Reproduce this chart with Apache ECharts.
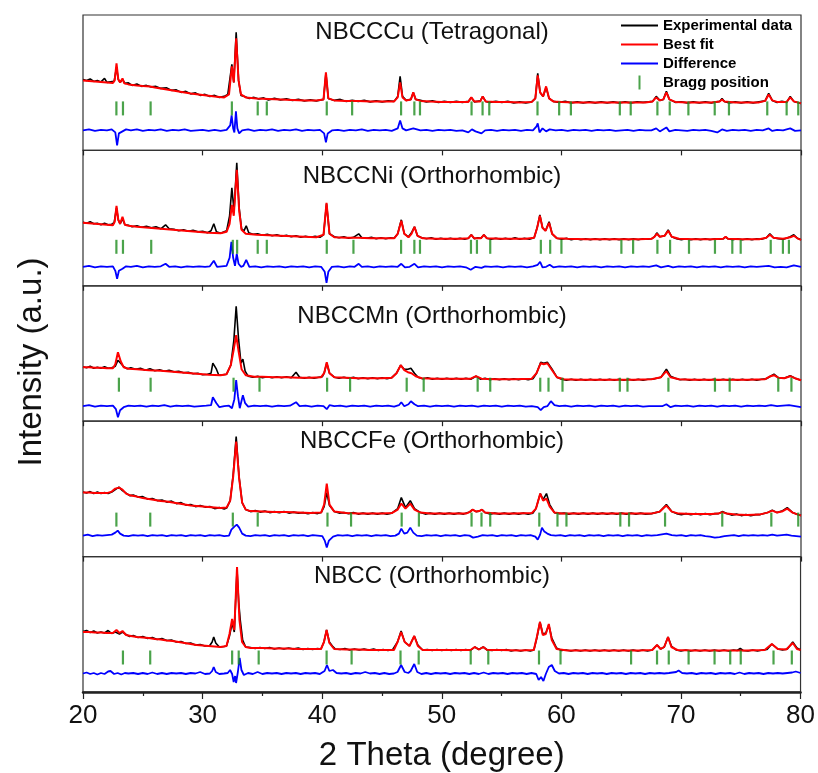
<!DOCTYPE html>
<html><head><meta charset="utf-8">
<script src="https://cdn.jsdelivr.net/npm/echarts@6/dist/echarts.min.js"></script>
<style>html,body{margin:0;padding:0;background:#fff}#c{width:818px;height:773px}</style>
</head><body><div id="c"></div>
<script>
const panelNames = ['NBCCCu (Tetragonal)','NBCCNi (Orthorhombic)','NBCCMn (Orthorhombic)','NBCCFe (Orthorhombic)','NBCC (Orthorhombic)'];
const xTicks = [20,30,40,50,60,70,80];
const braggLevel = [42,39,36.5,37,34.5];

// ---------- NBCCCu ----------
const cuExp = [[20,71],[20.3,70],[20.6,71.5],[20.9,69],[21.2,70],[21.5,68.5],[21.8,72],[22.0,68],[22.3,68.5],[22.6,69],[22.8,83],[22.95,71],[23.1,68],[23.3,71],[23.5,67],[23.8,67.5],[24.1,65],[24.5,66.5],[24.9,64],[25.3,65],[25.7,63.5],[26.1,64],[26.5,62],[27,62.5],[27.4,60],[27.8,60.5],[28.2,58],[28.6,59],[29,56.5],[29.4,57.5],[29.8,55],[30.2,56],[30.6,54],[31,55],[31.4,53],[31.8,54],[32.1,56],[32.44,86],[32.6,68],[32.8,118],[33.0,70],[33.2,55],[33.5,54],[33.9,52],[34.3,53],[34.7,51.5],[35.1,52.5],[35.5,50.5],[36,52],[36.5,50.5],[37,51.5],[37.5,50],[38,51],[38.5,49.5],[39,50.5],[39.5,49.5],[40.1,51],[40.3,77],[40.5,52],[41,50],[41.5,51],[42,49],[42.5,50],[43,49],[43.5,50],[44,48.5],[44.5,49.5],[45,48.5],[45.5,49.5],[46,49],[46.3,54],[46.5,74],[46.7,54],[47,50],[47.4,51],[47.6,58],[47.8,51],[48.2,50],[48.7,48.5],[49.2,49.5],[49.7,48],[50.2,49],[50.7,48],[51.2,49],[51.7,48],[52.2,49],[52.45,53],[52.7,48.5],[53.2,49.5],[53.4,54],[53.65,49],[54,48],[54.5,49],[55,48],[55.5,49],[56,47.5],[56.5,48.5],[57,47.5],[57.5,48.5],[57.8,52],[58.0,77],[58.2,58],[58.45,54],[58.7,63],[58.95,52],[59.3,49],[59.8,48],[60.3,49],[60.8,47.5],[61.3,48.5],[61.8,47.5],[62.3,48.5],[62.8,47.5],[63.3,48.5],[63.8,47.5],[64.3,48.5],[64.8,47.5],[65.3,48.5],[65.8,47.5],[66.3,48.5],[66.8,48],[67.3,48.5],[67.6,49],[67.9,54],[68.2,50],[68.5,51],[68.75,59],[69,51],[69.5,48],[70,48.5],[70.5,47.5],[71,48.5],[71.5,47.5],[72,48.5],[72.5,47.5],[73.2,49],[73.4,52],[73.6,49],[74,47.5],[74.5,48.5],[75,47.5],[75.5,48.5],[76,47.5],[76.5,48.5],[77.0,49.5],[77.3,57],[77.6,50],[78,48],[78.4,49],[78.8,48],[79.1,54],[79.4,49],[79.7,48],[80,47]];
const cuFit = [[20,70],[20.5,69.5],[21,69],[21.5,68.5],[22,68],[22.5,67.5],[22.65,70],[22.8,87],[22.95,71],[23.1,68],[23.3,72],[23.45,67],[23.8,66],[24.5,65],[25,64.5],[25.6,64],[26,63],[27,61],[28,59],[29,57],[30,55.5],[31,54],[31.8,53],[32.2,56],[32.44,84],[32.6,68],[32.8,112],[33.0,70],[33.2,56],[33.6,53],[34.5,52],[35.5,51.5],[36.5,51],[37.5,50.5],[38.5,50],[39.5,50],[40.1,51],[40.3,78],[40.5,52],[41,50],[42,49.5],[43,49.5],[44,49],[45,49],[46,49],[46.3,53],[46.5,68],[46.7,53],[47,50],[47.4,51],[47.6,58],[47.8,51],[48.2,49.5],[49,49],[50,48.5],[51,48.5],[52.2,48.5],[52.45,53],[52.7,49],[53.2,49],[53.4,54],[53.65,49],[54.5,48.5],[55.5,48.5],[56.5,48],[57.5,48.5],[57.8,52],[58.0,75],[58.2,58],[58.45,54],[58.7,64],[58.95,52],[59.3,49],[60,48.5],[61,48],[62,48],[63,48],[64,48],[65,48],[66,48],[67,48],[67.6,49],[67.9,53],[68.2,50],[68.5,51],[68.75,58],[69,51],[69.5,48.5],[70.5,48],[71.5,48],[72.5,48],[73.2,49],[73.4,51],[73.6,49],[74.5,48],[75.5,48],[76.5,48],[77.0,49.5],[77.3,56],[77.6,50],[78,48.5],[78.8,48.5],[79.1,53],[79.4,49],[80,47]];
const cuDiff = [[20,20],[20.5,21],[21,19.5],[21.5,20.5],[22,20],[22.4,21],[22.7,18],[22.85,5],[23.0,17],[23.3,19],[23.6,21],[24,20],[24.5,21],[25,19.5],[25.5,20.5],[26,20],[26.5,21],[27,19.5],[27.5,20.5],[28,20],[28.5,21],[29,19.5],[29.5,20],[30,20.5],[30.5,19.5],[31,20.5],[31.5,19.5],[32,20.5],[32.3,25],[32.42,35],[32.55,22],[32.65,18],[32.78,39],[32.9,22],[33.05,17],[33.3,20],[33.8,21],[34.3,19.5],[34.8,20.5],[35.3,20],[35.8,21],[36.3,19.5],[36.8,20.5],[37.3,20],[37.8,21],[38.3,19.5],[38.8,20.5],[39.3,20],[39.8,20.5],[40.15,17],[40.3,8],[40.45,17],[40.8,20],[41.3,20.5],[41.8,19.5],[42.3,20.5],[42.8,20],[43.3,21],[43.8,19.5],[44.3,20.5],[44.8,20],[45.3,20.5],[45.8,19.5],[46.3,22],[46.5,30],[46.7,22],[47,20],[47.6,22],[48.2,20],[48.7,20.5],[49.2,19.5],[49.7,20.5],[50.2,20],[50.7,20.5],[51.2,19.5],[51.7,20],[52.2,18],[52.5,21],[52.8,19],[53.3,17],[53.6,20],[54.1,20.5],[54.6,19.5],[55.1,20.5],[55.6,20],[56.1,20.5],[56.6,19.5],[57.1,20.5],[57.6,20],[57.9,24],[58.0,27],[58.15,18],[58.4,22],[58.7,19],[59.0,21],[59.5,20],[60,20.5],[60.5,19.5],[61,20.5],[61.5,20],[62,20.5],[62.5,19.5],[63,20.5],[63.5,20],[64,20.5],[64.5,19.5],[65,20],[65.5,20.5],[66,19.5],[66.5,20.5],[67,20],[67.5,20],[67.9,22],[68.2,19],[68.75,23],[69,19],[69.5,20.5],[70,20],[70.5,19.5],[71,20.5],[71.5,20],[72,20.5],[72.5,19.5],[73,18],[73.4,21],[73.8,19.5],[74.3,20.5],[74.8,20],[75.3,20.5],[75.8,19.5],[76.3,20.5],[76.8,20],[77.3,22],[77.6,19.5],[78,20.5],[78.5,20],[79.1,22],[79.5,19.5],[80,20]];
const cuBragg = [22.79,23.34,25.65,32.44,34.6,35.36,40.37,42.49,46.58,47.69,48.16,52.47,53.39,53.95,57.98,59.79,60.77,64.86,65.77,68.0,69.03,70.59,72.79,73.98,77.18,78.8,79.77];

// ---------- NBCCNi ----------
const niExp = [[20,63.5],[20.3,62.5],[20.6,64],[20.9,62],[21.2,62.5],[21.5,61],[21.8,62.5],[22.1,61],[22.4,61.5],[22.6,63],[22.8,78],[22.95,66],[23.1,62],[23.3,67],[23.5,61],[23.8,60.5],[24.1,59],[24.5,60],[24.9,58.5],[25.3,59.5],[25.7,58],[26.1,59],[26.5,57],[26.9,61],[27.2,57],[27.6,56.5],[28,55],[28.4,56],[28.8,54.5],[29.2,55.5],[29.6,54],[30,54.5],[30.4,53],[30.7,55],[30.93,62],[31.15,54],[31.5,52.5],[31.8,54],[32.0,55],[32.25,70],[32.44,98],[32.62,75],[32.85,123],[33.05,78],[33.25,57],[33.45,55],[33.64,60],[33.85,53],[34.2,51.5],[34.6,52],[35,50.5],[35.4,51.5],[35.8,50],[36.2,51],[36.6,49.5],[37,50.5],[37.4,49],[37.8,50],[38.2,48.5],[38.6,49.5],[39,48.5],[39.4,49.5],[39.8,48.5],[40.1,51],[40.35,82],[40.6,52],[41,49],[41.4,48],[41.8,49],[42.2,47.5],[42.6,48.5],[43.04,52],[43.3,48],[43.7,47.5],[44.1,48.5],[44.5,47],[44.9,48],[45.3,47],[45.7,48],[46.0,47.5],[46.3,52],[46.6,66],[46.85,52],[47.2,49],[47.45,53],[47.7,59],[47.95,50],[48.3,48],[48.7,47],[49.1,48],[49.5,46.5],[49.9,47.5],[50.3,46.5],[50.7,47.5],[51.1,46.5],[51.5,47.5],[51.9,46.5],[52.2,47.5],[52.45,51],[52.7,47],[53.0,48],[53.25,47.5],[53.5,51],[53.75,47.5],[54.1,46.5],[54.5,47.5],[54.9,46.5],[55.3,47.5],[55.7,46.5],[56.1,48],[56.5,46.5],[56.9,47.5],[57.3,46.5],[57.7,48],[57.95,58],[58.18,71],[58.4,58],[58.65,55],[58.95,64],[59.2,52],[59.6,47.5],[60,46.5],[60.4,47.5],[60.8,46],[61.2,47],[61.6,46],[62,47],[62.4,46],[62.8,47],[63.2,46],[63.6,47],[64,46],[64.4,47],[64.8,46],[65.2,47],[65.6,46],[66,47],[66.4,46],[66.8,47],[67.2,46.5],[67.5,47],[67.75,49],[67.95,53],[68.2,49],[68.6,50],[68.9,56],[69.2,49],[69.6,47],[70,46],[70.4,47],[70.8,46],[71.2,47],[71.6,46],[72,47],[72.4,46],[72.8,47],[73.2,46.5],[73.5,47],[73.7,49],[73.9,47],[74.3,46],[74.7,47],[75.1,46],[75.5,47],[75.9,46],[76.3,47],[76.7,46.5],[77.1,48],[77.4,52],[77.7,48],[78.1,47],[78.5,46.5],[78.8,47.5],[79.1,49],[79.4,51],[79.7,47.5],[80,46]];
const niFit = [[20,63],[20.5,62.5],[21,62],[21.5,61.5],[22,61],[22.5,60.5],[22.65,64],[22.8,80],[22.95,66],[23.1,62],[23.3,69],[23.5,61],[23.8,60],[24.5,59],[25.5,58],[26.5,57],[27.5,56],[28.5,55],[29.5,54],[30.5,53],[31.5,52.5],[32.0,54],[32.25,62],[32.44,81],[32.6,70],[32.85,116],[33.05,75],[33.25,56],[33.6,52],[34.5,51],[35.5,50.5],[36.5,50],[37.5,49.5],[38.5,49],[39.5,48.5],[40.1,51],[40.35,83],[40.6,52],[41,48.5],[42,48],[43,48],[44,47.5],[45,47.5],[46,47.5],[46.3,52],[46.6,65],[46.85,52],[47.2,48.5],[47.45,52],[47.7,59],[47.95,50],[48.4,47.5],[49.5,47],[50.5,47],[51.5,47],[52.2,47.5],[52.45,51],[52.7,47.5],[53.25,47.5],[53.5,51],[53.75,47.5],[55,47],[56,47],[57,47],[57.7,48],[57.95,58],[58.18,70],[58.4,58],[58.65,55],[58.95,63],[59.2,52],[59.6,47.5],[60.5,47],[62,46.5],[63.5,46.5],[65,46.5],[66.5,46.5],[67.5,47],[67.75,49],[67.95,52],[68.2,49],[68.6,50],[68.9,55],[69.2,49],[69.8,47],[71,46.5],[72.5,46.5],[73.5,47],[73.7,49],[73.9,47],[75,46.5],[76.5,46.5],[77.1,48],[77.4,51],[77.7,48],[78.5,47],[79.1,48.5],[79.4,50],[79.7,47.5],[80,46]];
const niDiff = [[20,19],[20.5,20],[21,18.5],[21.5,19.5],[22,19],[22.5,19.5],[22.7,15],[22.85,7],[23.0,15],[23.3,17],[23.6,19.5],[24,19],[24.5,20],[25,18.5],[25.5,19.5],[26,19],[26.5,19.5],[26.9,22],[27.2,19],[27.7,19.5],[28.2,18.5],[28.7,19.5],[29.2,19],[29.7,19.5],[30.2,19],[30.6,19.5],[30.93,25],[31.2,19],[31.6,19.5],[32.0,20],[32.25,28],[32.4,44],[32.55,28],[32.7,20],[32.85,32],[33.0,22],[33.2,19],[33.4,20],[33.64,26],[33.9,19],[34.4,19.5],[34.9,18.5],[35.4,19.5],[35.9,19],[36.4,19.5],[36.9,18.5],[37.4,19.5],[37.9,19],[38.4,19.5],[38.9,18.5],[39.4,19.5],[39.9,19],[40.2,14],[40.35,3],[40.5,14],[40.8,19],[41.3,19.5],[41.8,18.5],[42.3,19.5],[42.7,19],[43.04,22],[43.3,19],[43.8,19.5],[44.3,18.5],[44.8,19.5],[45.3,19],[45.8,19.5],[46.3,19],[46.6,22],[46.9,18.5],[47.3,19],[47.7,22],[48.0,18.5],[48.5,19.5],[49,19],[49.5,19.5],[50,18.5],[50.5,19.5],[51,19],[51.5,19.5],[52,18.5],[52.4,16],[52.8,19],[53.3,18],[53.6,19.5],[54.1,19],[54.6,19.5],[55.1,18.5],[55.6,19.5],[56.1,19],[56.6,19.5],[57.1,18.5],[57.6,19.5],[58.0,21],[58.2,24],[58.4,18.5],[58.7,19],[59.0,21],[59.3,18.5],[59.8,19.5],[60.3,19],[60.8,19.5],[61.3,18.5],[61.8,19.5],[62.3,19],[62.8,19.5],[63.3,18.5],[63.8,19.5],[64.3,19],[64.8,19.5],[65.3,18.5],[65.8,19.5],[66.3,19],[66.8,19.5],[67.3,19],[67.9,20.5],[68.3,18.5],[68.9,20],[69.3,18.5],[69.8,19.5],[70.3,19],[70.8,19.5],[71.3,18.5],[71.8,19.5],[72.3,19],[72.8,19.5],[73.3,18.5],[73.8,19.5],[74.3,19],[74.8,19.5],[75.3,18.5],[75.8,19.5],[76.3,19],[76.8,19.5],[77.3,20],[77.8,18.5],[78.3,19],[78.8,18.5],[79.4,20.5],[80,19]];
const niBragg = [22.79,23.34,25.7,32.52,32.88,34.6,35.36,40.37,42.6,46.58,47.69,48.16,52.42,52.92,54.03,58.26,59.04,59.98,64.99,65.97,68.0,69.06,70.64,72.81,74.26,74.96,77.47,78.49,78.99];

// ---------- NBCCMn ----------
const mnExp = [[20,54.5],[20.3,53.5],[20.6,55],[20.9,53],[21.2,54],[21.5,53],[21.8,54.5],[22.1,53],[22.4,53.5],[22.7,55],[22.92,61],[23.15,58],[23.4,54.5],[23.7,52.5],[24.0,53.5],[24.4,52],[24.8,53],[25.2,51],[25.6,52.5],[26,50.5],[26.4,51.5],[26.8,50],[27.2,51],[27.6,49.5],[28,50],[28.4,48.5],[28.8,49],[29.2,47.5],[29.6,48],[30,46.5],[30.4,47],[30.7,48],[30.85,58],[31.0,60],[31.15,52],[31.35,46],[31.7,46.5],[32.0,47],[32.35,56],[32.6,80],[32.8,115],[33.0,82],[33.2,58],[33.36,62],[33.55,50],[33.8,45],[34.2,44],[34.6,45],[35,43.5],[35.4,44.5],[35.8,43.5],[36.2,44.5],[36.6,43.5],[37,44.5],[37.4,43.5],[37.8,49],[38.1,44],[38.5,43],[38.9,44],[39.3,43],[39.7,44],[40.0,44.5],[40.15,48],[40.37,58],[40.6,48],[41,44],[41.4,43],[41.8,44],[42.2,43],[42.6,44],[43,42.5],[43.4,43.5],[43.8,42.5],[44.2,43.5],[44.6,42.5],[45,43.5],[45.4,42.5],[45.8,43.5],[46.2,48],[46.55,56],[46.85,52],[47.15,52],[47.4,53],[47.7,48],[48,44],[48.4,42.5],[48.8,43.5],[49.2,42],[49.6,43],[50,42],[50.4,43],[50.8,42],[51.2,43],[51.6,42],[52,43],[52.4,42],[52.84,45],[53.2,42],[53.6,43],[54,41.5],[54.4,42.5],[54.8,41.5],[55.2,42.5],[55.6,41.5],[56,42.5],[56.4,41.5],[56.8,42.5],[57.2,41.5],[57.6,42.5],[57.9,48],[58.25,59],[58.5,58],[58.8,59],[59.2,52],[59.6,44],[60,42],[60.4,41],[60.8,42],[61.2,41],[61.6,42],[62,41],[62.4,42],[62.8,41],[63.2,42],[63.6,41],[64,42],[64.4,41],[64.8,42],[65.2,41],[65.6,42],[66,41],[66.4,42],[66.8,41],[67.2,42],[67.6,42],[68.3,44],[68.75,52],[69.1,45],[69.5,43],[69.9,41.5],[70.3,42],[70.7,41],[71.1,42],[71.5,41],[71.9,42],[72.3,41],[72.7,42],[73.1,41],[73.5,42],[73.9,41],[74.3,42],[74.7,41],[75.1,42],[75.5,41],[75.9,42],[76.3,41],[76.7,42],[77.1,42.5],[77.45,45],[77.74,47],[78.1,43.5],[78.6,43],[79.1,45.5],[79.5,43],[80,41]];
const mnFit = [[20,54],[20.5,54],[21,53.5],[21.5,53.5],[22,53],[22.5,53],[22.7,57],[22.92,69],[23.15,60],[23.4,54],[23.8,52.5],[24.5,52],[25.5,51],[26.5,50.5],[27.5,49.5],[28.5,48.5],[29.5,47.5],[30.5,46.5],[31.5,46],[32.0,47],[32.35,56],[32.6,72],[32.8,86],[33.0,70],[33.25,52],[33.6,46],[34.3,44.5],[35,44.5],[36,44],[37,44],[38,43.5],[39,43.5],[39.9,44],[40.15,48],[40.37,59],[40.6,48],[41,44],[42,43.5],[43,43],[44,43],[45,43],[45.8,43.5],[46.2,48],[46.55,56],[46.85,51],[47.15,49],[47.45,48],[47.8,45],[48.3,43],[49.5,42.5],[51,42.5],[52.4,42.5],[52.84,45],[53.3,42.5],[54.5,42],[56,42],[57.5,42.5],[57.9,48],[58.25,58],[58.5,57],[58.8,58],[59.2,51],[59.6,44],[60.2,42],[61.5,41.5],[63,41.5],[64.5,41.5],[66,41.5],[67.5,42],[68.3,44],[68.75,50],[69.1,44],[69.8,42],[71,41.5],[72.5,41.5],[74,41.5],[75.5,41.5],[77,42],[77.45,45],[77.74,46],[78.1,43.5],[78.6,43],[79.1,45],[79.5,43],[80,41]];
const mnDiff = [[20,15],[20.5,16],[21,14.5],[21.5,15.5],[22,15],[22.5,15.5],[22.75,12],[22.92,4],[23.1,11],[23.4,14],[23.8,15.5],[24.3,15],[24.8,15.5],[25.3,14.5],[25.8,15.5],[26.3,15],[26.8,16],[27.3,14.5],[27.8,15.5],[28.3,15],[28.8,15.5],[29.3,14.5],[29.8,15],[30.3,15.5],[30.7,16],[30.85,24],[31.0,26],[31.15,18],[31.4,14],[31.8,15],[32.2,15.5],[32.45,13],[32.65,22],[32.8,41],[32.95,25],[33.1,13],[33.36,26],[33.55,18],[33.8,14.5],[34.3,15.5],[34.8,15],[35.3,15.5],[35.8,14.5],[36.3,15.5],[36.8,15],[37.3,15.5],[37.8,19],[38.1,15],[38.6,15.5],[39.1,14.5],[39.6,15.5],[40.1,15],[40.37,12],[40.6,16],[41,15],[41.5,15.5],[42,14.5],[42.5,15.5],[43,15],[43.5,15.5],[44,14.5],[44.5,15.5],[45,15],[45.5,15.5],[46,14.5],[46.4,16],[46.6,19],[46.85,15],[47.2,17],[47.4,20],[47.7,17],[48,15],[48.5,15.5],[49,14.5],[49.5,15.5],[50,15],[50.5,15.5],[51,14.5],[51.5,15.5],[52,15],[52.5,15.5],[53,14.5],[53.5,15.5],[54,15],[54.5,15.5],[55,14.5],[55.5,15.5],[56,15],[56.5,15.5],[57,14.5],[57.5,15],[58.0,14],[58.25,11],[58.5,14],[58.8,15],[59.1,20],[59.4,16],[59.8,15],[60.3,15.5],[60.8,14.5],[61.3,15.5],[61.8,15],[62.3,15.5],[62.8,14.5],[63.3,15.5],[63.8,15],[64.3,15.5],[64.8,14.5],[65.3,15.5],[65.8,15],[66.3,15.5],[66.8,14.5],[67.3,15],[67.8,15],[68.4,15],[68.75,17],[69.1,14],[69.5,15.5],[70,15],[70.5,15.5],[71,14.5],[71.5,15.5],[72,15],[72.5,15.5],[73,14.5],[73.5,15.5],[74,15],[74.5,15.5],[75,14.5],[75.5,15.5],[76,15],[76.5,15.5],[77,15],[77.5,16],[78,15],[78.5,15.5],[79,16],[79.5,15],[80,14]];
const mnBragg = [23.0,25.65,32.58,34.75,40.4,42.32,47.05,48.47,52.98,54.03,58.21,58.9,60.07,64.86,65.5,68.92,72.81,74.04,78.1,79.2];

// ---------- NBCCFe ----------
const feExp = [[20,64.5],[20.3,63.5],[20.6,65],[20.9,63],[21.2,64.5],[21.5,63],[21.8,64],[22.1,63],[22.4,64.5],[22.7,67],[23.0,69.5],[23.3,66],[23.6,63.5],[23.9,61],[24.2,61.5],[24.6,59.5],[25.0,60],[25.4,57.5],[25.8,58],[26.2,56],[26.6,56.5],[27,54.5],[27.4,55.5],[27.8,53],[28.2,54],[28.6,51.5],[29,52],[29.4,50],[29.8,51],[30.2,49.5],[30.6,50],[31,48],[31.4,49],[31.8,47.5],[32.0,48.5],[32.3,56],[32.55,82],[32.8,120],[33.05,79],[33.3,54],[33.6,47],[34,45],[34.4,46],[34.8,44.5],[35.2,45.5],[35.6,44],[36,45],[36.4,44],[36.8,45],[37.2,43.5],[37.6,44.5],[38,43.5],[38.4,44],[38.8,43],[39.2,44],[39.6,43],[39.9,44],[40.15,50],[40.37,64],[40.6,51],[41,45],[41.4,43.5],[41.8,44],[42.2,43],[42.6,44],[43,42.5],[43.4,43.5],[43.8,42.5],[44.2,43.5],[44.6,42.5],[45,43.5],[45.4,42.5],[45.8,43.5],[46.3,48],[46.6,59],[46.95,49],[47.35,56],[47.7,48],[48.2,44],[48.6,42.5],[49,43.5],[49.4,42.5],[49.8,43.5],[50.2,42.5],[50.6,43.5],[51,42.5],[51.4,43.5],[51.8,42.5],[52.3,44.5],[52.56,47],[52.85,45],[53.1,45.5],[53.34,47],[53.6,44],[54,42.5],[54.4,43.5],[54.8,42.5],[55.2,43.5],[55.6,42.5],[56,43.5],[56.4,42.5],[56.8,43.5],[57.2,42.5],[57.6,43.5],[57.85,48],[58.21,63],[58.45,57],[58.73,63],[59.0,52],[59.4,44],[59.8,43],[60.2,43.5],[60.6,42.5],[61,43.5],[61.4,42.5],[61.8,43.5],[62.2,42.5],[62.6,43.5],[63,42.5],[63.4,43.5],[63.8,42.5],[64.2,43.5],[64.6,42.5],[65,43.5],[65.4,42.5],[65.8,43.5],[66.2,42.5],[66.6,43.5],[67,42.5],[67.5,43],[68.2,45],[68.75,52],[69.2,45],[69.6,43],[70,42],[70.4,43],[70.8,42],[71.2,43],[71.6,42],[72,43],[72.4,42],[72.8,43],[73.1,43],[73.42,45],[73.8,43],[74.2,41.5],[74.6,42.5],[75,41],[75.4,42],[75.8,41],[76.2,42],[76.6,42],[77.2,44],[77.6,46.5],[78.0,44],[78.4,45.5],[78.85,49],[79.3,44],[79.7,42],[80,41]];
const feFit = [[20,64],[20.5,64],[21,63.5],[21.5,63.5],[22,63.5],[22.4,65],[22.7,68],[23.0,69],[23.3,67],[23.6,63],[24,61],[24.5,60],[25,58.5],[25.5,57.5],[26,56.5],[26.5,55.5],[27,55],[27.5,54],[28,53],[28.5,52],[29,51],[29.5,50.5],[30,50],[30.5,49.5],[31,49],[31.5,48.5],[32.0,49],[32.3,56],[32.55,80],[32.8,115],[33.05,78],[33.3,54],[33.6,47],[34,45.5],[35,45],[36,44.5],[37,44.5],[38,44],[39,43.5],[39.9,44],[40.15,52],[40.37,73],[40.6,52],[41,45],[42,43.5],[43,43],[44,43],[45,43],[45.8,43.5],[46.3,47],[46.6,53],[46.95,48],[47.35,53],[47.7,47],[48.2,44],[49,43],[50.5,43],[52,43],[52.3,44.5],[52.56,47],[52.85,45],[53.1,45.5],[53.34,47],[53.6,44],[54.5,43],[56,43],[57.5,43.5],[57.85,48],[58.21,63],[58.45,56],[58.73,58],[59.0,50],[59.4,44],[60,43],[61.5,43],[63,43],[64.5,43],[66,43],[67.5,43],[68.2,45],[68.75,51],[69.2,45],[69.8,43],[71,42.5],[72.5,42.5],[73.1,43],[73.42,44.5],[73.8,43],[74.5,42],[75.5,41.5],[76.5,42],[77.2,44],[77.6,46],[78.0,44],[78.4,45],[78.85,48],[79.3,44],[80,41]];
const feDiff = [[20,21],[20.4,22],[20.8,20.5],[21.2,21.5],[21.6,21],[22,21.5],[22.4,22],[22.7,24],[22.9,26],[23.1,23],[23.4,21],[23.8,20.5],[24.2,21.5],[24.6,21],[25,21.5],[25.4,20.5],[25.8,21.5],[26.2,21],[26.6,21.5],[27,20.5],[27.4,21.5],[27.8,21],[28.2,21.5],[28.6,20.5],[29,21.5],[29.4,21],[29.8,21.5],[30.2,20.5],[30.6,21.5],[31,21],[31.4,21.5],[31.8,20.5],[32.2,21],[32.4,27],[32.65,30],[32.85,32],[33.05,29],[33.3,23],[33.6,21],[34,20.5],[34.4,21.5],[34.8,21],[35.2,21.5],[35.6,20.5],[36,21.5],[36.4,21],[36.8,21.5],[37.2,20.5],[37.6,21.5],[38,21],[38.4,21.5],[38.8,20.5],[39.2,21.5],[39.6,21],[40.0,20.5],[40.2,16],[40.37,9],[40.55,16],[40.9,20],[41.3,21.5],[41.7,21],[42.1,21.5],[42.5,20.5],[42.9,21.5],[43.3,21],[43.7,21.5],[44.1,20.5],[44.5,21.5],[44.9,21],[45.3,21.5],[45.7,20.5],[46.1,21],[46.4,23],[46.6,28],[46.85,23],[47.1,24],[47.35,29],[47.6,24],[47.9,21],[48.3,20.5],[48.7,21.5],[49.1,21],[49.5,21.5],[49.9,20.5],[50.3,21.5],[50.7,21],[51.1,21.5],[51.5,20.5],[51.9,21.5],[52.3,21],[52.6,19],[53.0,20],[53.4,21.5],[53.8,21],[54.2,21.5],[54.6,20.5],[55,21.5],[55.4,21],[55.8,21.5],[56.2,20.5],[56.6,21.5],[57,21],[57.4,21.5],[57.8,20],[58.0,17],[58.2,22],[58.35,29],[58.55,25],[58.8,23],[59.1,21.5],[59.5,21],[59.9,21.5],[60.3,20.5],[60.7,21.5],[61.1,21],[61.5,21.5],[61.9,20.5],[62.3,21.5],[62.7,21],[63.1,21.5],[63.5,20.5],[63.9,21.5],[64.3,21],[64.7,21.5],[65.1,20.5],[65.5,21.5],[65.9,21],[66.3,21.5],[66.7,20.5],[67.1,21.5],[67.5,21],[68,21.5],[68.75,23],[69.2,21.5],[69.6,21],[70,21.5],[70.4,20.5],[70.8,21.5],[71.2,21],[71.6,21.5],[72,20.5],[72.4,20],[72.8,19],[73.2,19.5],[73.6,20.5],[74,21],[74.4,21.5],[74.8,20.5],[75.2,21.5],[75.6,21],[76,21.5],[76.4,21],[76.8,21.5],[77.2,21],[77.6,22],[78,21],[78.4,21.5],[78.8,22],[79.2,21],[79.6,20.5],[80,20]];
const feBragg = [22.79,25.62,32.52,34.6,40.43,42.4,46.63,48.07,52.47,53.3,54.03,58.13,59.65,60.4,64.9,65.63,68.64,73.42,77.52,79.77];

// ---------- NBCC ----------
const nbExp = [[20,60.5],[20.3,61.5],[20.6,59.5],[20.9,61],[21.2,59],[21.5,60],[21.8,59],[22.1,61.5],[22.4,58.5],[22.7,60],[22.8,61],[23.05,58],[23.3,60],[23.6,57.5],[23.9,55.5],[24.2,56.5],[24.6,54.5],[25,55.5],[25.4,53.5],[25.8,54.5],[26.2,52.5],[26.6,53.5],[27,51.5],[27.4,52],[27.8,50],[28.2,50.5],[28.6,48.5],[29,49],[29.4,47],[29.8,47.5],[30.2,46],[30.6,46.5],[30.8,50],[30.93,55],[31.1,49],[31.4,45],[31.8,45.5],[32.0,46],[32.25,56],[32.47,69],[32.65,60],[32.88,122],[33.02,90],[33.15,72],[33.35,52],[33.6,45],[34,44.5],[34.4,43.5],[34.8,44.5],[35.2,43.5],[35.6,44.5],[36,43],[36.4,44],[36.8,43],[37.2,44],[37.6,43],[38,44],[38.4,42.5],[38.8,43.5],[39.2,42.5],[39.6,43.5],[39.9,43],[40.15,50],[40.37,62],[40.6,50],[40.85,46],[41.1,43],[41.5,42.5],[41.9,43.5],[42.3,42],[42.7,43],[43.1,42],[43.5,43],[43.9,42],[44.3,43],[44.7,41.5],[45.1,42.5],[45.5,41.5],[45.9,42.5],[46.3,50],[46.6,61],[46.9,50],[47.3,46],[47.7,56],[48.0,47],[48.4,42],[48.8,42.5],[49.2,41.5],[49.6,42.5],[50,41.5],[50.4,42.5],[50.8,41.5],[51.2,42.5],[51.6,41.5],[52,42.5],[52.4,41.5],[52.76,45],[53.1,42.5],[53.47,45],[53.8,42],[54.2,41.5],[54.6,42.5],[55,41.5],[55.4,42.5],[55.8,41],[56.2,42],[56.6,41],[57,42],[57.4,41],[57.7,42],[57.95,54],[58.21,70],[58.45,58],[58.7,59],[58.95,67],[59.2,54],[59.6,44],[60,41.5],[60.4,42],[60.8,41],[61.2,42],[61.6,41],[62,42],[62.4,41],[62.8,42],[63.2,41],[63.6,42],[64,41],[64.4,42],[64.8,41],[65.2,42],[65.6,41],[66,42],[66.4,41],[66.8,42],[67.2,41],[67.6,42],[68.0,47],[68.3,43],[68.6,45],[68.92,55],[69.2,46],[69.6,42],[70,41],[70.4,42],[70.8,41],[71.2,42],[71.6,41],[72,42],[72.4,41],[72.8,42],[73.2,41],[73.6,42],[74,41],[74.4,42],[74.7,41.5],[74.96,43.5],[75.2,41.5],[75.6,41],[76,42],[76.4,41],[76.8,42],[77.2,42.5],[77.6,48],[78.1,43],[78.5,42],[78.9,43],[79.35,50],[79.7,44],[80,42]];
const nbFit = [[20,60],[20.5,60],[21,59.5],[21.5,59.5],[22,59],[22.5,59],[22.8,62],[23.05,59],[23.3,61],[23.6,57],[24,56],[24.5,55],[25,54.5],[25.5,54],[26,53],[26.5,52.5],[27,51.5],[27.5,51],[28,50],[28.5,49],[29,48],[29.5,47],[30,46.5],[30.5,46],[31,45.5],[31.5,45],[32.0,46],[32.25,58],[32.47,73],[32.65,62],[32.88,125],[33.08,72],[33.3,50],[33.6,45],[34,44],[35,44],[36,43.5],[37,43.5],[38,43],[39,43],[39.9,43],[40.15,50],[40.37,62],[40.6,49],[41,43],[42,42.5],[43,42.5],[44,42],[45,42],[46,42],[46.3,50],[46.6,60],[46.9,50],[47.3,46],[47.7,56],[48.0,46],[48.4,42],[49.5,42],[51,42],[52.4,42],[52.76,45],[53.1,42.5],[53.47,45],[53.8,42],[55,42],[56.5,41.5],[57.7,42],[57.95,55],[58.21,70],[58.45,57],[58.7,58],[58.95,68],[59.2,52],[59.6,43],[60.5,41.5],[62,41.5],[63.5,41.5],[65,41.5],[66.5,41.5],[67.6,42],[68.0,47],[68.3,43],[68.6,45],[68.92,55],[69.2,45],[69.7,42],[71,41.5],[72.5,41.5],[74,41.5],[75.5,41.5],[77,42],[77.6,48],[78.1,43],[78.8,42.5],[79.35,49],[79.7,43],[80,42]];
const nbDiff = [[20,18.5],[20.3,19.5],[20.6,18],[20.9,19],[21.2,17.5],[21.5,19],[21.8,18],[22.1,20.5],[22.3,21],[22.6,18],[22.9,19],[23.2,17.5],[23.5,19],[23.8,18.5],[24.2,19],[24.6,18],[25,19],[25.4,18],[25.8,19.5],[26.2,18],[26.6,19],[27,18],[27.4,19],[27.8,18.5],[28.2,19],[28.6,18],[29,19],[29.4,18.5],[29.8,20],[30.2,18],[30.6,18.5],[30.8,21],[30.93,25],[31.1,20],[31.4,18],[31.8,18.5],[32.1,19],[32.3,22],[32.47,18],[32.6,10],[32.72,16],[32.8,9],[32.95,20],[33.1,34],[33.25,22],[33.45,17],[33.8,19],[34.2,18],[34.6,20],[35,18],[35.4,19],[35.8,18.5],[36.2,19],[36.6,18],[37,19],[37.4,18.5],[37.8,19],[38.2,18],[38.6,19],[39,18.5],[39.4,19],[39.8,18],[40.2,21],[40.4,27],[40.6,21],[40.9,22],[41.2,19],[41.6,18.5],[42,19],[42.4,18],[42.8,19],[43.2,18.5],[43.6,20],[44,18.5],[44.4,19],[44.8,18],[45.2,19],[45.6,18],[46,18.5],[46.3,20],[46.6,27],[46.9,20],[47.2,19],[47.4,21],[47.7,28],[47.95,20],[48.3,18],[48.7,19],[49.1,18],[49.5,19],[49.9,18.5],[50.3,19],[50.7,18],[51.1,19],[51.5,18.5],[51.9,19],[52.3,18],[52.7,19],[53.1,18],[53.5,19.5],[53.9,18],[54.3,19],[54.7,18.5],[55.1,19],[55.5,18],[55.9,19],[56.3,18.5],[56.7,19],[57.1,18],[57.5,19],[57.9,18],[58.1,12],[58.3,15],[58.5,11],[58.7,18],[58.95,25],[59.2,27],[59.45,21],[59.8,18.5],[60.2,19],[60.6,18],[61,19],[61.4,18.5],[61.8,19],[62.2,18],[62.6,19],[63,18.5],[63.4,19],[63.8,18],[64.2,19],[64.6,18.5],[65,19],[65.4,18],[65.8,19],[66.2,18.5],[66.6,19],[67,18],[67.4,19],[67.8,18.5],[68.2,19],[68.6,18.5],[69.0,19],[69.6,20],[69.8,21.5],[70.1,19],[70.5,18.5],[70.9,19],[71.3,18],[71.7,19],[72.1,18.5],[72.5,19],[72.9,18],[73.3,19],[73.7,18.5],[74.1,19],[74.5,18],[74.9,19.5],[75.3,18],[75.7,19],[76.1,18.5],[76.5,19],[76.9,18],[77.3,19],[77.7,18.5],[78.1,19],[78.5,18.5],[78.9,19],[79.3,19.5],[79.6,20.5],[80,19]];
const nbBragg = [23.34,25.62,32.47,33.02,34.69,40.37,42.46,46.55,48.07,52.42,53.89,58.13,59.93,65.83,68.0,68.98,70.64,72.81,74.12,75.0,77.74,79.27];

const panels = [
  {exp: cuExp, fit: cuFit, diff: cuDiff, bragg: cuBragg},
  {exp: niExp, fit: niFit, diff: niDiff, bragg: niBragg},
  {exp: mnExp, fit: mnFit, diff: mnDiff, bragg: mnBragg},
  {exp: feExp, fit: feFit, diff: feDiff, bragg: feBragg},
  {exp: nbExp, fit: nbFit, diff: nbDiff, bragg: nbBragg}
];

const FONT = '"Liberation Sans", Arial, sans-serif';
const TOP = 15, BOTTOM = 692, LEFT = 83, RIGHT = 17;
const H = (BOTTOM - TOP) / 5;
const titleOffset = [17, 26, 31, 20.5, 20];
const LINE_ICON = 'path://M0,0M37,14M0,6L37,6L37,8L0,8Z';
const TICK_ICON = 'path://M0,0M37,14M17.5,0L19.5,0L19.5,14L17.5,14Z';

const grids = [], xAxes = [], yAxes = [], series = [], graphics = [];
panels.forEach((p, i) => {
  const last = i === panels.length - 1;
  grids.push({left: LEFT, right: RIGHT, top: TOP + i * H, height: H, show: true,
    borderColor: '#333', borderWidth: 1.2, backgroundColor: 'transparent'});
  xAxes.push({
    type: 'value', gridIndex: i, min: xTicks[0], max: xTicks[xTicks.length - 1], interval: 10,
    axisLine: {show: last, onZero: false, lineStyle: {color: '#222', width: 2.5}},
    axisTick: {show: true, inside: false, length: last ? 7 : 5, lineStyle: {color: '#222', width: 1.2}},
    minorTick: {show: last, splitNumber: 2, length: 4, lineStyle: {color: '#222', width: 1.2}},
    axisLabel: {show: last, fontSize: 26, color: '#111', margin: 11, fontFamily: FONT},
    splitLine: {show: false},
    name: last ? '2 Theta (degree)' : '', nameLocation: 'middle', nameGap: 47,
    nameTextStyle: {fontSize: 33, color: '#111', fontFamily: FONT}
  });
  yAxes.push({type: 'value', gridIndex: i, min: 0, max: H, show: false});
  series.push({type: 'line', name: 'Experimental data', xAxisIndex: i, yAxisIndex: i, data: p.exp,
    symbol: 'none', showSymbol: false, lineStyle: {color: '#000', width: 1.6}, itemStyle: {color: '#000'}, z: 2, animation: false});
  series.push({type: 'line', name: 'Best fit', xAxisIndex: i, yAxisIndex: i, data: p.fit,
    symbol: 'none', showSymbol: false, lineStyle: {color: '#ff0000', width: 2}, itemStyle: {color: '#ff0000'}, z: 3, animation: false});
  series.push({type: 'line', name: 'Difference', xAxisIndex: i, yAxisIndex: i, data: p.diff,
    symbol: 'none', showSymbol: false, lineStyle: {color: '#0000ff', width: 1.8}, itemStyle: {color: '#0000ff'}, z: 3, animation: false});
  series.push({type: 'scatter', name: 'Bragg position', xAxisIndex: i, yAxisIndex: i,
    data: p.bragg.map(x => [x, braggLevel[i]]), symbol: 'rect', symbolSize: [2.2, 14],
    itemStyle: {color: '#1e8c1e'}, z: 4, animation: false});
  graphics.push({type: 'text', x: 432, y: TOP + i * H + titleOffset[i],
    style: {text: panelNames[i], fontSize: 24, fontFamily: FONT, fill: '#111', align: 'center', verticalAlign: 'middle'}});
});
graphics.push({type: 'text', x: 32, y: 362, rotation: Math.PI / 2,
  style: {text: 'Intensity (a.u.)', fontSize: 33, fontFamily: FONT, fill: '#111', align: 'center', verticalAlign: 'middle'}});

const chart = echarts.init(document.getElementById('c'));
chart.setOption({
  animation: false,
  backgroundColor: '#fff',
  grid: grids, xAxis: xAxes, yAxis: yAxes, series: series, graphic: graphics,
  legend: {
    orient: 'vertical', left: 621, top: 18, padding: 0, itemWidth: 37, itemHeight: 14, itemGap: 4,
    selectedMode: false,
    textStyle: {fontSize: 15, fontWeight: 'bold', color: '#000', fontFamily: FONT},
    data: [
      {name: 'Experimental data', icon: LINE_ICON},
      {name: 'Best fit', icon: LINE_ICON},
      {name: 'Difference', icon: LINE_ICON},
      {name: 'Bragg position', icon: TICK_ICON}
    ]
  }
});
</script></body></html>
